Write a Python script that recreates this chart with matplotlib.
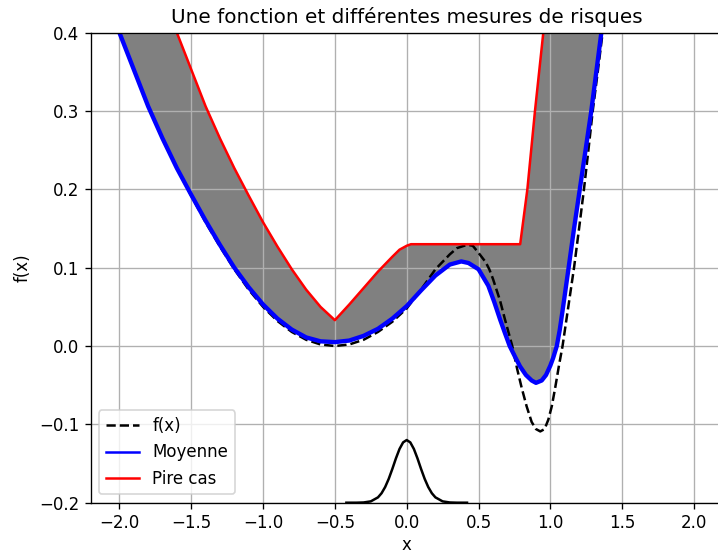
import matplotlib
matplotlib.use("Agg")
import matplotlib.pyplot as plt
import numpy as np

# f(x) (dashed)
f_x = [-2.0, -1.9, -1.8, -1.7, -1.6, -1.5, -1.4, -1.3, -1.2, -1.1, -1.0, -0.9, -0.8, -0.7,
       -0.6, -0.5, -0.4, -0.3, -0.2, -0.1, 0.0, 0.1, 0.2, 0.3, 0.35, 0.4, 0.43, 0.46, 0.5,
       0.55, 0.575, 0.6, 0.65, 0.684, 0.735, 0.77, 0.8, 0.835, 0.87, 0.9, 0.93, 0.96,
       0.986, 1.01, 1.035, 1.06, 1.085, 1.125, 1.165, 1.2, 1.234, 1.265, 1.295, 1.33, 1.364, 1.43]
f_y = [0.400, 0.353, 0.306, 0.265, 0.227, 0.192, 0.158, 0.127, 0.098, 0.072, 0.050, 0.032, 0.018, 0.008,
       0.002, 0.000, 0.002, 0.008, 0.018, 0.031, 0.048, 0.072, 0.098, 0.117, 0.125, 0.128, 0.129, 0.128, 0.119,
       0.107, 0.098, 0.086, 0.058, 0.034, 0.000, -0.030, -0.053, -0.077, -0.097, -0.106, -0.109, -0.106,
       -0.094, -0.077, -0.052, -0.025, 0.000, 0.050, 0.100, 0.150, 0.200, 0.250, 0.300, 0.350, 0.400, 0.500]

# Moyenne (blue)
m_x = [-2.0, -1.9, -1.8, -1.7, -1.6, -1.5, -1.4, -1.3, -1.2, -1.1, -1.0, -0.9, -0.8, -0.7,
       -0.6, -0.5, -0.4, -0.3, -0.2, -0.1, 0.0, 0.1, 0.2, 0.3, 0.38, 0.43, 0.5, 0.568, 0.61,
       0.65, 0.685, 0.717, 0.755, 0.789, 0.83, 0.87, 0.9, 0.94, 0.97, 1.0, 1.02, 1.045, 1.065,
       1.085, 1.125, 1.165, 1.205, 1.245, 1.285, 1.32, 1.355, 1.42]
m_y = [0.400, 0.353, 0.306, 0.265, 0.227, 0.193, 0.160, 0.129, 0.100, 0.075, 0.053, 0.035, 0.021, 0.011,
       0.006, 0.005, 0.007, 0.013, 0.022, 0.035, 0.051, 0.071, 0.090, 0.104, 0.108, 0.106, 0.098, 0.077, 0.056,
       0.034, 0.016, 0.000, -0.014, -0.026, -0.037, -0.044, -0.047, -0.044, -0.037, -0.025, -0.015, 0.000, 0.020,
       0.045, 0.097, 0.150, 0.200, 0.250, 0.300, 0.350, 0.400, 0.490]

# Pire cas (red)
w_x = [-2.0, -1.9, -1.8, -1.7, -1.6, -1.5, -1.4, -1.3, -1.2, -1.1, -1.0, -0.9, -0.8, -0.7,
       -0.6, -0.5, -0.4, -0.3, -0.2, -0.1, -0.05, 0.0, 0.03, 0.79, 0.84, 0.893, 0.951, 1.0]
w_y = [0.660, 0.590, 0.520, 0.455, 0.400, 0.353, 0.306, 0.265, 0.227, 0.192, 0.158, 0.127, 0.098, 0.072,
       0.050, 0.033, 0.053, 0.074, 0.095, 0.114, 0.123, 0.128, 0.130, 0.130, 0.200, 0.300, 0.400, 0.490]

# Gaussian (noise density) drawn at the bottom
g_x = [-0.42, -0.35, -0.3, -0.25, -0.2, -0.175, -0.15, -0.125, -0.1, -0.075, -0.05, -0.025, 0.0,
       0.025, 0.05, 0.075, 0.1, 0.125, 0.15, 0.175, 0.2, 0.25, 0.3, 0.35, 0.42]
g_y = [-0.2, -0.19998, -0.1997, -0.1983, -0.1932, -0.1879, -0.18, -0.1695, -0.1569, -0.1434, -0.1314, -0.123, -0.12,
       -0.123, -0.1314, -0.1434, -0.1569, -0.1695, -0.18, -0.1879, -0.1932, -0.1983, -0.1997, -0.19998, -0.2]

fig = plt.figure(figsize=(718 / 120, 553 / 120), dpi=120)
ax = fig.add_axes([90.7 / 718, 50.3 / 553, 632 / 718, 470 / 553])

ax.fill(np.concatenate([m_x, w_x[::-1]]), np.concatenate([m_y, w_y[::-1]]),
        color="gray", linewidth=0)
ax.plot(f_x, f_y, "k--", lw=1.5, label="f(x)")
ax.plot(m_x, m_y, color="blue", lw=2.6, label="Moyenne")
ax.plot(w_x, w_y, color="red", lw=1.5, label="Pire cas")
ax.plot(g_x, g_y, color="black", lw=1.5)

ax.set_xlim(-2.2, 2.2)
ax.set_ylim(-0.2, 0.4)
ax.grid(True)
ax.set_xlabel("x", labelpad=2)
ax.set_ylabel("f(x)")
ax.set_title("Une fonction et différentes mesures de risques")
leg = ax.legend(loc="lower left")
leg.get_lines()[1].set_linewidth(1.5)

fig.savefig("out.png", dpi=120)
